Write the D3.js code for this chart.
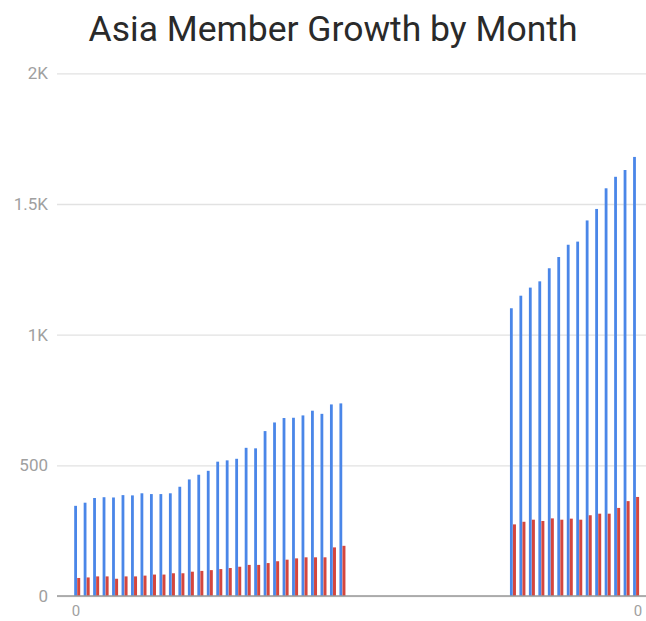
<!DOCTYPE html>
<html>
<head>
<meta charset="utf-8">
<script src="https://cdn.jsdelivr.net/npm/d3@7"></script>
<style>
  html, body { margin: 0; padding: 0; background: #fff; overflow: hidden; }
  svg { display: block; }
</style>
</head>
<body>
<svg id="chart" width="646" height="621"></svg>
<script>
// ---- data ----
const title = "Asia Member Growth by Month";
// 60 monthly slots (29 + 17 empty + 14); null = no data
const totalMembers = [
  345, 357, 375, 378, 377, 386, 385, 393, 390, 390, 393, 418, 446, 464, 479,
  514, 519, 525, 567, 565, 631, 664, 681, 682, 691, 709, 697, 733, 737,
  null, null, null, null, null, null, null, null, null, null,
  null, null, null, null, null, null, null,
  1101, 1149, 1180, 1204, 1254, 1297, 1344, 1356, 1437, 1481, 1560, 1604, 1630, 1680
];
const newMembers = [
  69, 71, 75, 75, 66, 75, 75, 78, 82, 82, 87, 87, 93, 96, 99,
  103, 107, 112, 119, 119, 126, 133, 139, 144, 148, 148, 148, 186, 192,
  null, null, null, null, null, null, null, null, null, null,
  null, null, null, null, null, null, null,
  274, 284, 292, 287, 297, 292, 296, 292, 309, 315, 315, 337, 363, 379
];
const yTicks = [0, 500, 1000, 1500, 2000];
const yTickLabels = ["0", "500", "1K", "1.5K", "2K"];
const xTickLabels = ["0", "0"];

// ---- layout ----
const svg = d3.select("#chart");
const plotLeft = 57, plotRight = 646, plotTop = 73.3, plotBottom = 596;
const font = "Roboto, 'Noto Sans', sans-serif";
const lastIdx = totalMembers.length - 1;
const xTickIndex = [0, lastIdx];

const x = d3.scaleLinear().domain([0, lastIdx]).range([75.7, 634.6]);
const xLabel = d3.scaleLinear().domain([0, lastIdx]).range([76, 638]);
const y = d3.scaleLinear().domain([0, 2000]).range([plotBottom, plotTop]);

// title
svg.append("text")
  .attr("x", 333).attr("y", 41)
  .attr("text-anchor", "middle")
  .attr("font-family", font)
  .attr("font-size", 35.5)
  .attr("fill", "#2a2a2a")
  .text(title);

// y axis (gridlines + labels)
const yAxis = d3.axisLeft(y)
  .tickValues(yTicks)
  .tickFormat((d, i) => yTickLabels[i])
  .tickSize(-(plotRight - plotLeft))
  .tickPadding(9);
const gy = svg.append("g").attr("transform", `translate(${plotLeft},0)`).call(yAxis);
gy.select(".domain").remove();
gy.selectAll(".tick line").attr("stroke", "#e2e2e2").attr("stroke-width", 1.3);
gy.selectAll(".tick text")
  .attr("fill", "#a0a0a0")
  .attr("font-family", font)
  .attr("font-size", 17);

// bars
const idx = d3.range(totalMembers.length);
svg.append("g").selectAll("rect")
  .data(idx.filter(i => totalMembers[i] != null))
  .join("rect")
  .attr("x", i => x(i) - 1.5)
  .attr("width", 2.8)
  .attr("y", i => y(totalMembers[i]))
  .attr("height", i => y(0) - y(totalMembers[i]))
  .attr("fill", "#4a86e8");
svg.append("g").selectAll("rect")
  .data(idx.filter(i => newMembers[i] != null))
  .join("rect")
  .attr("x", i => x(i) + 1.5)
  .attr("width", 3.0)
  .attr("y", i => y(newMembers[i]))
  .attr("height", i => y(0) - y(newMembers[i]))
  .attr("fill", "#d4463e");

// baseline
svg.append("line")
  .attr("x1", plotLeft).attr("x2", plotRight)
  .attr("y1", y(0)).attr("y2", y(0))
  .attr("stroke", "#999").attr("stroke-width", 1.3);

// x labels
svg.append("g").selectAll("text")
  .data(xTickIndex)
  .join("text")
  .attr("x", d => xLabel(d))
  .attr("y", 615.5)
  .attr("text-anchor", "middle")
  .attr("fill", "#a0a0a0")
  .attr("font-family", font)
  .attr("font-size", 15)
  .text((d, i) => xTickLabels[i]);
</script>
</body>
</html>
